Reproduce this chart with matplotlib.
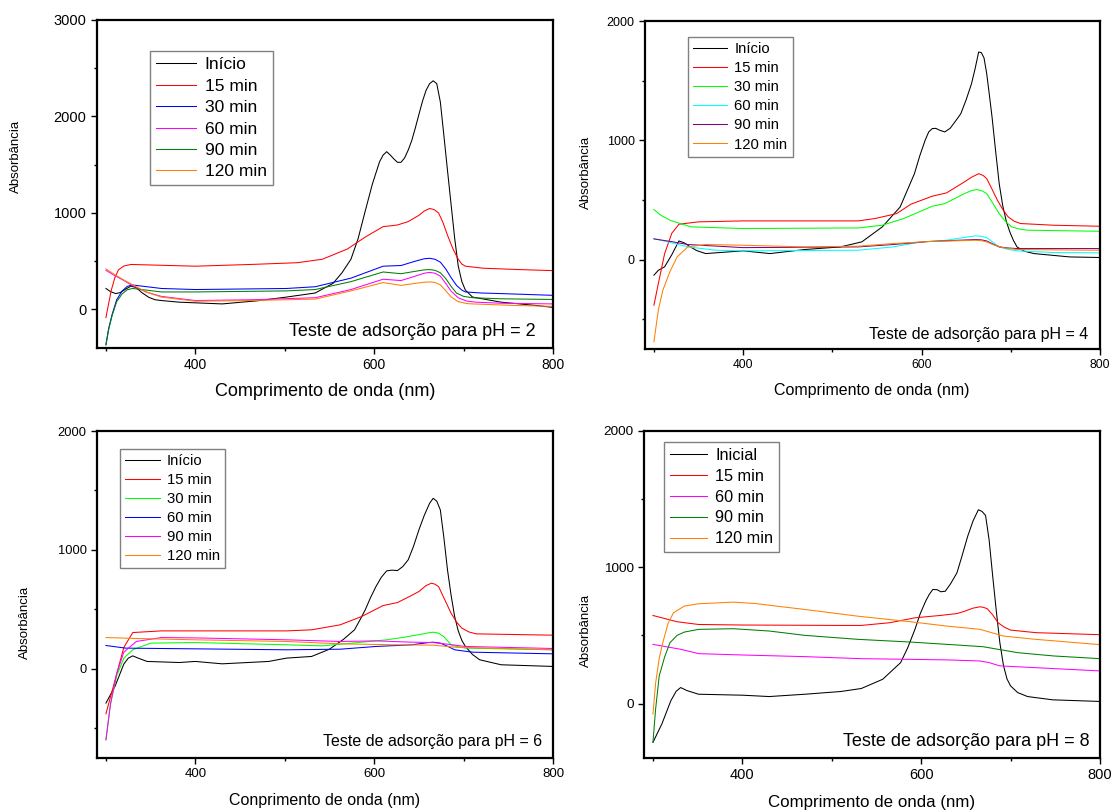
import matplotlib
matplotlib.use('Agg')
import matplotlib.pyplot as plt
from matplotlib.ticker import FixedLocator

plt.rcParams['font.family'] = ['Liberation Sans', 'DejaVu Sans']

# ---------------- DATA ----------------
# pH 2
ph2_inicio_wl = [300, 305, 311, 316, 322, 328, 334, 340, 348, 355, 362, 382, 430, 470, 502, 534, 554, 564, 574, 582, 590, 598, 606, 610, 614, 618, 622, 626, 630, 634, 638, 642, 646, 650, 654, 658, 662, 666, 670, 674, 678, 682, 686, 690, 694, 698, 702, 710, 742, 782, 800]
ph2_inicio_ab = [217, 185, 164, 175, 210, 242, 225, 175, 125, 100, 92, 75, 57, 90, 128, 170, 270, 380, 520, 733, 1020, 1300, 1530, 1600, 1635, 1600, 1560, 1525, 1525, 1570, 1650, 1750, 1880, 2020, 2157, 2270, 2340, 2370, 2340, 2150, 1800, 1440, 1090, 740, 450, 290, 200, 128, 75, 40, 21]
ph2_15_wl = [300, 303, 306, 310, 314, 320, 328, 400, 462, 514, 542, 570, 590, 610, 626, 638, 650, 656, 662, 667, 672, 677, 682, 688, 694, 698, 702, 722, 762, 800]
ph2_15_ab = [-85, 60, 200, 330, 410, 450, 466, 448, 466, 484, 520, 626, 750, 858, 875, 910, 975, 1020, 1046, 1035, 1000, 900, 769, 630, 520, 470, 448, 427, 413, 402]
ph2_30_wl = [300, 303, 307, 312, 318, 324, 330, 362, 400, 502, 534, 574, 610, 630, 646, 656, 662, 668, 674, 680, 686, 692, 698, 702, 720, 742, 800]
ph2_30_ab = [-363, -200, -50, 100, 190, 240, 253, 217, 206, 217, 235, 324, 448, 455, 500, 525, 530, 520, 490, 420, 330, 250, 200, 181, 170, 164, 146]
ph2_60_wl = [300, 310, 320, 328, 345, 362, 400, 462, 534, 574, 610, 630, 646, 656, 662, 668, 674, 680, 686, 694, 704, 714, 742, 800]
ph2_60_ab = [405, 350, 300, 255, 180, 135, 92, 100, 121, 206, 313, 299, 345, 375, 384, 375, 345, 270, 190, 120, 85, 75, 64, 57]
ph2_90_wl = [300, 303, 307, 312, 318, 324, 330, 362, 400, 502, 534, 574, 610, 630, 646, 656, 662, 668, 674, 680, 686, 692, 700, 710, 742, 800]
ph2_90_ab = [-370, -210, -60, 80, 160, 205, 217, 181, 181, 192, 206, 288, 388, 370, 395, 410, 413, 405, 380, 320, 240, 170, 135, 121, 110, 103]
ph2_120_wl = [300, 310, 320, 328, 345, 362, 400, 462, 534, 574, 610, 630, 646, 656, 662, 668, 674, 680, 686, 694, 704, 710, 760, 800]
ph2_120_ab = [420, 360, 305, 265, 180, 128, 85, 92, 107, 192, 278, 249, 270, 282, 285, 280, 255, 195, 130, 80, 60, 57, 40, 32]

# pH 4
ph4_inicio_wl = [300, 305, 312, 320, 328, 334, 340, 348, 358, 400, 430, 469, 509, 533, 556, 576, 592, 598, 604, 608, 612, 616, 620, 626, 632, 638, 644, 650, 656, 660, 664, 667, 670, 673, 676, 679, 683, 687, 691, 695, 699, 703, 707, 715, 726, 766, 800]
ph4_inicio_ab = [-131, -90, -61, 40, 156, 140, 110, 75, 50, 73, 50, 84, 106, 148, 274, 441, 720, 870, 1000, 1070, 1098, 1100, 1085, 1070, 1100, 1160, 1223, 1340, 1475, 1600, 1740, 1735, 1690, 1560, 1380, 1195, 910, 637, 450, 320, 230, 160, 106, 70, 50, 22, 17]
ph4_15_wl = [300, 305, 312, 320, 328, 350, 400, 529, 548, 572, 588, 612, 628, 648, 656, 664, 669, 673, 679, 685, 691, 697, 704, 711, 747, 800]
ph4_15_ab = [-383, -200, 50, 220, 296, 316, 324, 324, 344, 385, 464, 531, 559, 651, 690, 720, 705, 679, 590, 497, 420, 358, 320, 302, 288, 279]
ph4_30_wl = [300, 308, 318, 330, 342, 400, 529, 556, 580, 612, 626, 648, 656, 662, 668, 673, 680, 687, 694, 701, 710, 719, 800]
ph4_30_ab = [419, 370, 330, 300, 274, 260, 265, 288, 344, 447, 469, 553, 578, 587, 575, 553, 470, 385, 320, 274, 255, 246, 237]
ph4_60_wl = [300, 320, 338, 370, 400, 529, 568, 600, 628, 652, 660, 667, 673, 680, 687, 697, 707, 747, 800]
ph4_60_ab = [176, 140, 106, 78, 73, 78, 106, 148, 162, 190, 198, 195, 184, 145, 106, 85, 73, 59, 56]
ph4_90_wl = [300, 320, 338, 400, 529, 568, 608, 652, 660, 667, 673, 680, 687, 697, 707, 800]
ph4_90_ab = [173, 150, 126, 100, 106, 126, 151, 165, 168, 165, 156, 130, 106, 97, 92, 92]
ph4_120_wl = [300, 305, 310, 318, 326, 338, 358, 400, 469, 529, 568, 608, 652, 660, 667, 673, 680, 691, 707, 800]
ph4_120_ab = [-690, -420, -257, -100, 22, 106, 126, 120, 106, 112, 134, 151, 160, 162, 158, 148, 125, 100, 84, 78]

# pH 6
ph6_inicio_wl = [300, 310, 320, 325, 330, 336, 346, 382, 400, 430, 482, 502, 530, 550, 566, 578, 584, 590, 596, 602, 608, 614, 620, 626, 632, 638, 644, 650, 656, 662, 666, 670, 674, 678, 682, 686, 690, 694, 698, 702, 710, 718, 742, 800]
ph6_inicio_ab = [-288, -150, 40, 90, 109, 90, 62, 53, 62, 42, 62, 90, 104, 165, 250, 328, 410, 496, 600, 692, 770, 824, 830, 826, 860, 916, 1030, 1168, 1290, 1392, 1434, 1410, 1336, 1100, 832, 620, 440, 320, 240, 188, 120, 76, 34, 20]
ph6_15_wl = [300, 310, 320, 330, 362, 400, 502, 530, 562, 586, 610, 626, 640, 650, 658, 664, 668, 672, 679, 686, 692, 698, 706, 714, 800]
ph6_15_ab = [-378, -100, 180, 305, 319, 319, 319, 328, 370, 440, 532, 557, 610, 650, 700, 720, 712, 692, 580, 468, 395, 342, 310, 294, 283]
ph6_30_wl = [300, 305, 312, 320, 330, 350, 400, 502, 542, 582, 614, 634, 652, 660, 666, 672, 678, 686, 694, 702, 800]
ph6_30_ab = [-597, -300, -60, 90, 160, 216, 221, 202, 193, 221, 244, 266, 290, 302, 308, 300, 270, 202, 185, 174, 160]
ph6_60_wl = [300, 322, 400, 502, 562, 602, 642, 660, 666, 674, 682, 690, 710, 800]
ph6_60_ab = [196, 174, 168, 160, 165, 188, 202, 220, 224, 216, 190, 160, 140, 126]
ph6_90_wl = [300, 305, 312, 320, 334, 362, 400, 502, 562, 602, 642, 666, 682, 702, 800]
ph6_90_ab = [-597, -300, -40, 140, 230, 263, 260, 244, 230, 235, 224, 221, 207, 188, 171]
ph6_120_wl = [300, 334, 400, 502, 562, 622, 666, 690, 800]
ph6_120_ab = [263, 255, 244, 230, 210, 202, 199, 182, 160]

# pH 8
ph8_inicio_wl = [300, 310, 320, 326, 331, 338, 351, 400, 430, 470, 510, 533, 557, 577, 585, 593, 599, 605, 609, 613, 618, 622, 627, 633, 640, 646, 652, 658, 664, 668, 672, 676, 680, 684, 688, 692, 696, 700, 708, 719, 747, 800]
ph8_inicio_ab = [-285, -150, 20, 90, 117, 95, 68, 61, 51, 68, 88, 110, 178, 300, 410, 544, 660, 751, 800, 837, 835, 820, 824, 880, 959, 1090, 1227, 1340, 1422, 1410, 1380, 1200, 934, 680, 446, 280, 180, 129, 80, 51, 27, 15]
ph8_15_wl = [300, 327, 351, 400, 510, 533, 565, 593, 621, 640, 649, 658, 666, 670, 674, 680, 686, 693, 700, 728, 800]
ph8_15_ab = [646, 600, 580, 576, 573, 573, 593, 629, 646, 660, 678, 700, 710, 705, 695, 650, 593, 560, 539, 520, 505]
ph8_60_wl = [300, 331, 351, 400, 470, 533, 588, 629, 666, 676, 688, 728, 800]
ph8_60_ab = [434, 398, 366, 356, 344, 329, 324, 320, 312, 300, 276, 263, 239]
ph8_90_wl = [300, 303, 307, 313, 319, 327, 335, 351, 390, 430, 470, 529, 588, 629, 669, 708, 748, 800]
ph8_90_ab = [-285, -40, 202, 340, 446, 500, 524, 544, 549, 532, 500, 471, 451, 434, 417, 373, 349, 329]
ph8_120_wl = [300, 303, 307, 311, 317, 323, 335, 351, 390, 414, 470, 529, 588, 629, 666, 692, 728, 800]
ph8_120_ab = [-78, 150, 330, 446, 590, 666, 715, 732, 744, 734, 690, 641, 600, 568, 544, 495, 471, 432]

labels_a = ['Início', '15 min', '30 min', '60 min', '90 min', '120 min']
labels_8 = ['Inicial', '15 min', '60 min', '90 min', '120 min']

W, H = 1113, 811
fig = plt.figure(figsize=(W / 100, H / 100), dpi=100)


def make_axes(l, t, r, b):
    return fig.add_axes([l / W, 1 - b / H, (r - l) / W, (b - t) / H])


def style(ax, ylim, ymaj, ymin, xfs, yfs):
    ax.set_xlim(290, 800)
    ax.set_ylim(*ylim)
    ax.xaxis.set_major_locator(FixedLocator([400, 600, 800]))
    ax.xaxis.set_minor_locator(FixedLocator([300, 500, 700]))
    ax.yaxis.set_major_locator(FixedLocator(ymaj))
    ax.yaxis.set_minor_locator(FixedLocator(ymin))
    for s in ax.spines.values():
        s.set_linewidth(1.6)
    ax.tick_params(which='both', direction='out', top=False, right=False, width=1.0)
    ax.tick_params(which='major', length=4.5, pad=3)
    ax.tick_params(which='minor', length=2.5)
    ax.tick_params(axis='x', labelsize=xfs)
    ax.tick_params(axis='y', labelsize=yfs)


def legend(ax, x, y, fs, ls):
    lg = ax.legend(loc='upper left', bbox_to_anchor=(x, y), fontsize=fs, frameon=True,
                   fancybox=False, edgecolor='#808080', framealpha=1, handlelength=2.3,
                   handletextpad=0.5, labelspacing=ls, borderpad=0.35, borderaxespad=0)
    lg.get_frame().set_linewidth(1.0)


LW = 0.75

# ---- Panel pH 2 ----
ax1 = make_axes(97, 20, 553, 348)
ax1.plot(ph2_inicio_wl, ph2_inicio_ab, color='black', lw=LW, label=labels_a[0])
ax1.plot(ph2_15_wl, ph2_15_ab, color='#ff0000', lw=LW, label=labels_a[1])
ax1.plot(ph2_30_wl, ph2_30_ab, color='#0000ff', lw=LW, label=labels_a[2])
ax1.plot(ph2_60_wl, ph2_60_ab, color='#ff00ff', lw=LW, label=labels_a[3])
ax1.plot(ph2_90_wl, ph2_90_ab, color='#008000', lw=LW, label=labels_a[4])
ax1.plot(ph2_120_wl, ph2_120_ab, color='#ff8000', lw=LW, label=labels_a[5])
style(ax1, (-400, 3000), [0, 1000, 2000, 3000], [-500, 500, 1500, 2500], 10, 10.5)
legend(ax1, 0.116, 0.905, 12.5, 0.36)
ax1.text(0.962, 0.05, 'Teste de adsorção para pH = 2', transform=ax1.transAxes,
         ha='right', va='center', fontsize=13)
fig.text(325 / W, 1 - 392 / H, 'Comprimento de onda (nm)', ha='center', va='center', fontsize=13)
fig.text(16 / W, 1 - 156 / H, 'Absorbância', rotation=90, ha='center', va='center', fontsize=9.5)

# ---- Panel pH 4 ----
ax2 = make_axes(645, 21, 1100, 349)
ax2.plot(ph4_inicio_wl, ph4_inicio_ab, color='black', lw=LW, label=labels_a[0])
ax2.plot(ph4_15_wl, ph4_15_ab, color='#ff0000', lw=LW, label=labels_a[1])
ax2.plot(ph4_30_wl, ph4_30_ab, color='#00ff00', lw=LW, label=labels_a[2])
ax2.plot(ph4_60_wl, ph4_60_ab, color='#00ffff', lw=LW, label=labels_a[3])
ax2.plot(ph4_90_wl, ph4_90_ab, color='#800080', lw=LW, label=labels_a[4])
ax2.plot(ph4_120_wl, ph4_120_ab, color='#ff8000', lw=LW, label=labels_a[5])
style(ax2, (-750, 2000), [0, 1000, 2000], [-500, 500, 1500], 8.7, 9)
legend(ax2, 0.0935, 0.951, 10.7, 0.34)
ax2.text(0.974, 0.044, 'Teste de adsorção para pH = 4', transform=ax2.transAxes,
         ha='right', va='center', fontsize=11.5)
fig.text(872 / W, 1 - 390 / H, 'Comprimento de onda (nm)', ha='center', va='center', fontsize=11.5)
fig.text(586 / W, 1 - 172 / H, 'Absorbância', rotation=90, ha='center', va='center', fontsize=9.5)

# ---- Panel pH 6 ----
ax3 = make_axes(97, 431, 553, 758)
ax3.plot(ph6_inicio_wl, ph6_inicio_ab, color='black', lw=LW, label=labels_a[0])
ax3.plot(ph6_15_wl, ph6_15_ab, color='#ff0000', lw=LW, label=labels_a[1])
ax3.plot(ph6_30_wl, ph6_30_ab, color='#00ff00', lw=LW, label=labels_a[2])
ax3.plot(ph6_60_wl, ph6_60_ab, color='#0000ff', lw=LW, label=labels_a[3])
ax3.plot(ph6_90_wl, ph6_90_ab, color='#ff00ff', lw=LW, label=labels_a[4])
ax3.plot(ph6_120_wl, ph6_120_ab, color='#ff8000', lw=LW, label=labels_a[5])
style(ax3, (-750, 2000), [0, 1000, 2000], [-500, 500, 1500], 9.5, 9.3)
legend(ax3, 0.051, 0.946, 10.7, 0.34)
ax3.text(0.976, 0.05, 'Teste de adsorção para pH = 6', transform=ax3.transAxes,
         ha='right', va='center', fontsize=11.5)
fig.text(325 / W, 1 - 800 / H, 'Conprimento de onda (nm)', ha='center', va='center', fontsize=11.5)
fig.text(25 / W, 1 - 622 / H, 'Absorbância', rotation=90, ha='center', va='center', fontsize=9.5)

# ---- Panel pH 8 ----
ax4 = make_axes(644, 431, 1100, 758)
ax4.plot(ph8_inicio_wl, ph8_inicio_ab, color='black', lw=LW, label=labels_8[0])
ax4.plot(ph8_15_wl, ph8_15_ab, color='#ff0000', lw=LW, label=labels_8[1])
ax4.plot(ph8_60_wl, ph8_60_ab, color='#ff00ff', lw=LW, label=labels_8[2])
ax4.plot(ph8_90_wl, ph8_90_ab, color='#008000', lw=LW, label=labels_8[3])
ax4.plot(ph8_120_wl, ph8_120_ab, color='#ff8000', lw=LW, label=labels_8[4])
style(ax4, (-400, 2000), [0, 1000, 2000], [500, 1500], 10.5, 9.7)
legend(ax4, 0.044, 0.966, 11.7, 0.36)
ax4.text(0.977, 0.05, 'Teste de adsorção para pH = 8', transform=ax4.transAxes,
         ha='right', va='center', fontsize=13)
fig.text(872 / W, 1 - 803 / H, 'Comprimento de onda (nm)', ha='center', va='center', fontsize=12.2)
fig.text(586 / W, 1 - 630 / H, 'Absorbância', rotation=90, ha='center', va='center', fontsize=9.5)

fig.savefig('out.png', dpi=100, facecolor='white')
